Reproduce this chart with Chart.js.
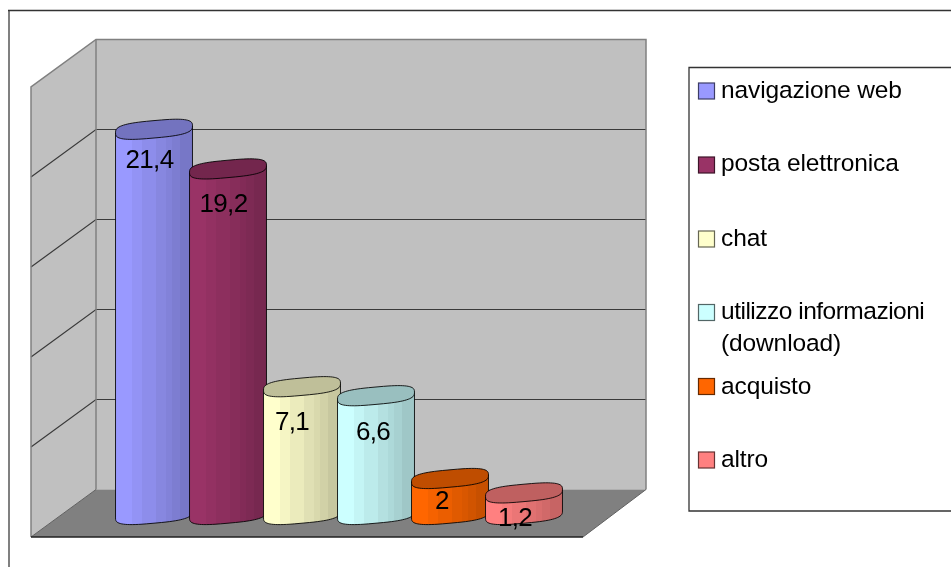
<!DOCTYPE html>
<html>
<head>
<meta charset="utf-8">
<style>html,body{margin:0;padding:0;background:#fff;overflow:hidden}canvas{display:block}</style>
<script src="https://cdn.jsdelivr.net/npm/chart.js@4"></script>
</head>
<body>
<canvas id="c" width="951" height="567"></canvas>
<script>
const categories = ["navigazione web","posta elettronica","chat","utilizzo informazioni (download)","acquisto","altro"];
const values = [21.4,19.2,7.1,6.6,2,1.2];
const valueLabels = ["21,4","19,2","7,1","6,6","2","1,2"];
const colors = ["#9999FF","#993366","#FFFFCC","#CCFFFF","#FF6600","#FF8080"];
const yTicks = [0,5,10,15,20,25];
const legendLines = [["navigazione web"],["posta elettronica"],["chat"],["utilizzo informazioni","(download)"],["acquisto"],["altro"]];
const legendBaselines = [98,171,245.5,319,393.5,467];
const swatchCenters = [91,165,239,312.5,386.5,460];
const labelNudgeX = [-4.5,-4.5,-10,-3,-8,-9];
const labelNudgeY = [32,36,36,37,23,26];

const FONT = '"Liberation Sans", Arial, sans-serif';
const bandEdges = [0,.22,.35,.52,.65,.74,.84,1];
const bandShade = [1,.96,.92,.88,.85,.82,.78];

function shade(hex,f){
  const n=parseInt(hex.slice(1),16);
  return `rgb(${Math.round((n>>16&255)*f)},${Math.round((n>>8&255)*f)},${Math.round((n&255)*f)})`;
}
function bandGradient(ctx,x0,x1,hex){
  const g=ctx.createLinearGradient(x0,0,x1,0);
  bandShade.forEach((s,i)=>{
    g.addColorStop(bandEdges[i],shade(hex,s));
    g.addColorStop(bandEdges[i+1],shade(hex,s));
  });
  return g;
}
// Rounded, sheared outline of a cylinder end
function capPoint(cx,cy,a,b,t){
  const c=Math.cos(t), s=Math.sin(t), n=2/3;
  const px=a*Math.sign(c)*Math.pow(Math.abs(c),n);
  const py=b*Math.sign(s)*Math.pow(Math.abs(s),n);
  return [cx+px, cy+py-0.09*px];
}

const wallsPlugin = {
  id:'walls',
  beforeDatasetsDraw(chart){
    const {ctx,chartArea:a,scales:{y}}=chart;
    const backDy=-25, frontDy=22.5;
    const bl=a.left-21, fl=a.left-86, br=a.right+85, fr=a.right+22;
    const by=v=>y.getPixelForValue(v)+backDy, fy=v=>y.getPixelForValue(v)+frontDy;
    const top=yTicks[yTicks.length-1];
    ctx.save();
    // frame
    ctx.lineWidth=2; ctx.strokeStyle='#808080';
    ctx.beginPath(); ctx.moveTo(9,567); ctx.lineTo(9,10); ctx.stroke();
    ctx.lineWidth=1.3; ctx.strokeStyle='#333';
    ctx.beginPath(); ctx.moveTo(8,10.5); ctx.lineTo(951,10.5); ctx.stroke();
    // back wall
    ctx.fillStyle='#C0C0C0';
    ctx.fillRect(bl,by(top),br-bl,by(0)-by(top));
    // left wall
    ctx.beginPath(); ctx.moveTo(fl,fy(top)); ctx.lineTo(bl,by(top)); ctx.lineTo(bl,by(0)); ctx.lineTo(fl,fy(0)); ctx.closePath(); ctx.fill();
    // floor
    ctx.fillStyle='#808080';
    ctx.beginPath(); ctx.moveTo(fl,fy(0)); ctx.lineTo(bl,by(0)); ctx.lineTo(br,by(0)); ctx.lineTo(fr,fy(0)); ctx.closePath(); ctx.fill();
    // gridlines
    ctx.lineWidth=1.2; ctx.strokeStyle='#3a3a3a';
    yTicks.slice(1,-1).forEach(v=>{
      ctx.beginPath(); ctx.moveTo(fl,fy(v)); ctx.lineTo(bl,by(v)); ctx.lineTo(br,by(v)); ctx.stroke();
    });
    // wall edges
    ctx.lineWidth=1.5; ctx.strokeStyle='#808080';
    ctx.beginPath(); ctx.moveTo(fl,fy(0)); ctx.lineTo(fl,fy(top)); ctx.lineTo(bl,by(top)); ctx.lineTo(br,by(top)); ctx.lineTo(br,by(0)); ctx.stroke();
    ctx.beginPath(); ctx.moveTo(bl,by(top)); ctx.lineTo(bl,by(0)); ctx.stroke();
    ctx.lineWidth=1; ctx.strokeStyle='#606060';
    ctx.beginPath(); ctx.moveTo(br,by(0)); ctx.lineTo(fr,fy(0)); ctx.stroke();
    ctx.beginPath(); ctx.moveTo(bl,by(0)); ctx.lineTo(fl,fy(0)); ctx.stroke();
    ctx.lineWidth=1.5; ctx.strokeStyle='#202020';
    ctx.beginPath(); ctx.moveTo(fl,fy(0)); ctx.lineTo(fr,fy(0)); ctx.stroke();
    ctx.restore();
  }
};

const cylinderPlugin = {
  id:'cylinders',
  beforeDatasetDraw(chart,args){
    const {ctx}=chart;
    const els=chart.getDatasetMeta(args.index).data;
    const STEPS=72;
    ctx.save();
    els.forEach((el,i)=>{
      const p=el.getProps(['x','y','base','width'],true);
      const a=p.width/2, b=8.7;
      const hex=colors[i];
      ctx.beginPath();
      const start=capPoint(p.x,p.y,a,b,Math.PI);
      ctx.moveTo(start[0],start[1]);
      for(let k=0;k<=STEPS/2;k++){
        const q=capPoint(p.x,p.base,a,b,Math.PI-k*2*Math.PI/STEPS);
        ctx.lineTo(q[0],q[1]);
      }
      const end=capPoint(p.x,p.y,a,b,0);
      ctx.lineTo(end[0],end[1]);
      ctx.closePath();
      ctx.fillStyle=bandGradient(ctx,p.x-a,p.x+a,hex);
      ctx.fill();
      ctx.lineWidth=1; ctx.strokeStyle='rgba(0,0,0,.85)';
      ctx.stroke();
      ctx.beginPath();
      for(let k=0;k<STEPS;k++){
        const q=capPoint(p.x,p.y,a,b,k*2*Math.PI/STEPS);
        if(k===0)ctx.moveTo(q[0],q[1]); else ctx.lineTo(q[0],q[1]);
      }
      ctx.closePath();
      ctx.fillStyle=shade(hex,.75);
      ctx.fill();
      ctx.stroke();
    });
    ctx.restore();
    return false;
  },
  afterDatasetsDraw(chart){
    const {ctx}=chart;
    const els=chart.getDatasetMeta(0).data;
    ctx.save();
    ctx.fillStyle='#000';
    ctx.font='26px '+FONT;
    ctx.letterSpacing='-0.7px';
    ctx.textAlign='center'; ctx.textBaseline='middle';
    els.forEach((el,i)=>{
      const p=el.getProps(['x','y'],true);
      ctx.fillText(valueLabels[i],p.x+labelNudgeX[i],p.y+labelNudgeY[i]);
    });
    ctx.restore();
  }
};

const legendPlugin = {
  id:'sideLegend',
  afterDraw(chart){
    const {ctx}=chart;
    const swatchX=698.5, swatch=16, textX=721, lineH=31.5;
    ctx.save();
    ctx.strokeStyle='#333'; ctx.lineWidth=1.3;
    ctx.beginPath(); ctx.moveTo(951,67.5); ctx.lineTo(689,67.5); ctx.lineTo(689,511); ctx.lineTo(951,511); ctx.stroke();
    ctx.font='24.5px '+FONT; ctx.textBaseline='alphabetic'; ctx.textAlign='left';
    legendLines.forEach((lines,i)=>{
      const top=swatchCenters[i]-swatch/2;
      ctx.fillStyle=colors[i];
      ctx.fillRect(swatchX,top,swatch,swatch);
      ctx.lineWidth=1.2; ctx.strokeStyle=shade(colors[i],.4);
      ctx.strokeRect(swatchX,top,swatch,swatch);
      ctx.fillStyle='#000';
      lines.forEach((t,j)=>{
        ctx.letterSpacing=t.startsWith('utilizzo')?'-0.5px':'-0.12px';
        ctx.fillText(t,textX,legendBaselines[i]+j*lineH);
      });
    });
    ctx.restore();
  }
};

new Chart(document.getElementById('c'),{
  type:'bar',
  data:{labels:categories,datasets:[{data:values,backgroundColor:colors,borderColor:'#000',borderWidth:1,barPercentage:1.04,categoryPercentage:1}]},
  options:{
    responsive:false,animation:false,
    layout:{padding:{left:117,right:390,top:64.5,bottom:52.5}},
    plugins:{legend:{display:false},tooltip:{enabled:false},title:{display:false}},
    scales:{
      x:{display:false,offset:true},
      y:{display:false,min:0,max:25,ticks:{stepSize:5}}
    }
  },
  plugins:[wallsPlugin,cylinderPlugin,legendPlugin]
});
</script>
</body>
</html>
